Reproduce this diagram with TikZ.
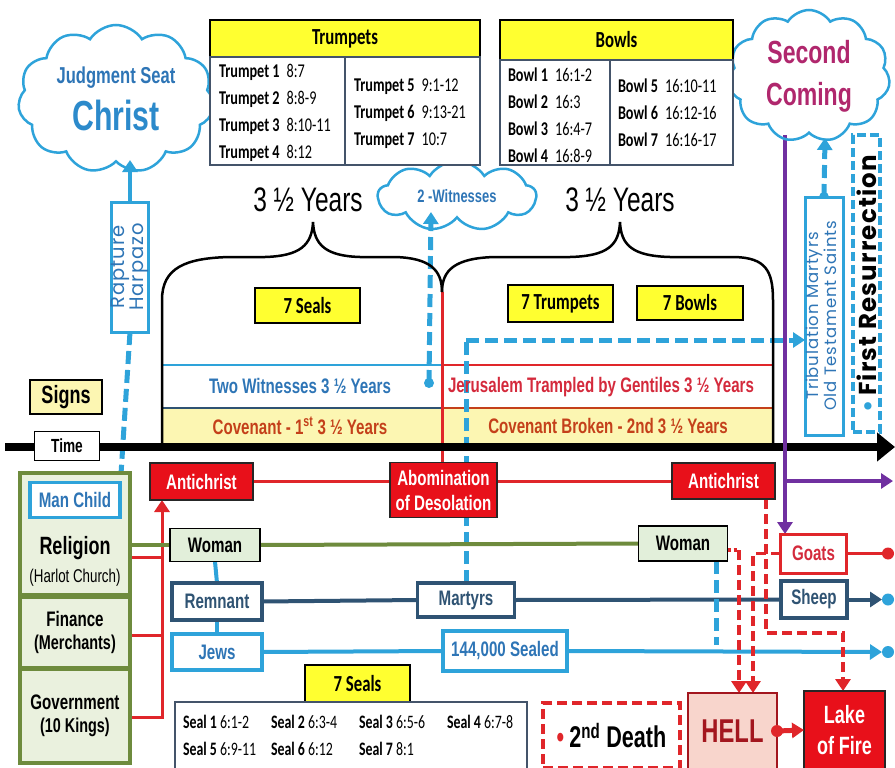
\documentclass[tikz,border=0pt]{standalone}
\usepackage{fontspec}
\usepackage{graphicx}
\setmainfont{Liberation Sans}
\newfontfamily\narrowfont{Liberation Sans}[FakeStretch=0.72]
\newfontfamily\calfont{Carlito}[FakeStretch=0.73]
\newfontfamily\roundfont{Poppins}[LetterSpace=5]
\usetikzlibrary{arrows.meta, shapes.symbols, calc}

\definecolor{cloudblue}{HTML}{2EA3DA}
\definecolor{textblue}{HTML}{2E75B6}
\definecolor{christblue}{HTML}{2C8ACB}
\definecolor{slateblue}{HTML}{2F5373}
\definecolor{armygreen}{HTML}{6E8B3D}
\definecolor{greenfill}{HTML}{EAF1DE}
\definecolor{womanfill}{HTML}{E2EFDA}
\definecolor{firered}{HTML}{E8101A}
\definecolor{redline}{HTML}{E0262A}
\definecolor{jerured}{HTML}{D42A3C}
\definecolor{brick}{HTML}{C4401A}
\definecolor{purpline}{HTML}{7030A0}
\definecolor{magent}{HTML}{B0276D}
\definecolor{brightyellow}{HTML}{FFFF30}
\definecolor{paleyellow}{HTML}{FCF6B2}
\definecolor{hellpink}{HTML}{F8D5CC}
\definecolor{helldark}{HTML}{A3161E}
\definecolor{tablegrey}{HTML}{44546A}

\pgfdeclarelayer{background}
\pgfsetlayers{background,main}

\tikzset{
  every node/.style={inner sep=0pt, outer sep=0pt},
  narrowbold/.style={font=\narrowfont\bfseries\fontsize{21}{23}\selectfont},
  sky/.style={cloud, cloud puffs=11, cloud puff arc=115, cloud ignores aspect,
    draw=cloudblue, line width=2.5pt, align=center},
  ybox/.style={draw=black, line width=1.5pt, fill=brightyellow,
    font=\calfont\bfseries\fontsize{23}{25}\selectfont},
  tablebox/.style={draw=tablegrey, line width=1.5pt, fill=white},
  tablerows/.style={font=\calfont\fontsize{19.5}{27}\selectfont, anchor=west},
  redbox/.style={narrowbold, draw=black!85, line width=1.5pt, fill=firered,
    text=white, align=center},
  greenbox/.style={draw=armygreen, line width=3.5pt, fill=greenfill, align=center},
  womanbox/.style={narrowbold, draw=black, line width=1.5pt, fill=womanfill},
  navybox/.style={narrowbold, draw=slateblue, line width=3.5pt, fill=white, text=slateblue},
  bluebox/.style={narrowbold, draw=cloudblue, line width=3.5pt, fill=white, text=textblue},
  bigtip/.style={-{Triangle[length=12pt, width=15pt]}},
  bluedash/.style={draw=cloudblue, line width=5pt, dash pattern=on 13pt off 6pt},
  reddash/.style={draw=redline, line width=3.5pt, dash pattern=on 10pt off 5pt},
  redconn/.style={draw=redline, line width=3pt},
  navyconn/.style={draw=slateblue, line width=4pt},
  greenconn/.style={draw=armygreen, line width=4pt},
  blueconn/.style={draw=cloudblue, line width=4pt},
  purpconn/.style={draw=purpline, line width=4pt},
}

\begin{document}
\begin{tikzpicture}[x=1pt, y=-1pt]
  \useasboundingbox (0,0) rectangle (895,768);

  % clouds
  \node[sky, text=textblue, font=\narrowfont\bfseries, minimum width=196pt, minimum height=148pt] (jsc) at (116,99)
    {\fontsize{23}{24}\selectfont Judgment Seat\\[10pt]
     \textcolor{christblue}{\fontsize{42}{40}\selectfont Christ}};
  \node[sky, text=magent, font=\narrowfont\bfseries\fontsize{32}{42}\selectfont,
    minimum width=162pt, minimum height=132pt] (second) at (809,76) {Second\\Coming};
  \node[sky, cloud puffs=9, text=textblue, font=\narrowfont\bfseries\fontsize{18}{19}\selectfont,
    minimum width=158pt, minimum height=70pt] (wit) at (457,196) {2 -Witnesses};

  % trumpets table
  \node[ybox, minimum width=270pt, minimum height=37pt] (trumphead) at (345,38.5) {Trumpets};
  \node[tablebox, minimum width=135pt, minimum height=108pt] (trumpL) at (277.5,111) {};
  \node[tablebox, minimum width=135pt, minimum height=108pt] (trumpR) at (412.5,111) {};
  \node[tablerows] (trumpLtxt) at (219,113) {\begin{tabular}{@{}l@{\hspace{7pt}}l@{}}
    \textbf{Trumpet 1} & 8:7\\ \textbf{Trumpet 2} & 8:8-9\\
    \textbf{Trumpet 3} & 8:10-11\\ \textbf{Trumpet 4} & 8:12\end{tabular}};
  \node[tablerows] (trumpRtxt) at (354,113) {\begin{tabular}{@{}l@{\hspace{7pt}}l@{}}
    \textbf{Trumpet 5} & 9:1-12\\ \textbf{Trumpet 6} & 9:13-21\\
    \textbf{Trumpet 7} & 10:7\end{tabular}};

  % bowls table
  \node[ybox, minimum width=233pt, minimum height=40pt] (bowlhead) at (616.5,40) {Bowls};
  \node[tablebox, minimum width=110pt, minimum height=105pt] (bowlL) at (555,112.5) {};
  \node[tablebox, minimum width=123pt, minimum height=105pt] (bowlR) at (671.5,112.5) {};
  \node[tablerows] (bowlLtxt) at (508,117) {\begin{tabular}{@{}l@{\hspace{7pt}}l@{}}
    \textbf{Bowl 1} & 16:1-2\\ \textbf{Bowl 2} & 16:3\\
    \textbf{Bowl 3} & 16:4-7\\ \textbf{Bowl 4} & 16:8-9\end{tabular}};
  \node[tablerows] (bowlRtxt) at (618,114) {\begin{tabular}{@{}l@{\hspace{7pt}}l@{}}
    \textbf{Bowl 5} & 16:10-11\\ \textbf{Bowl 6} & 16:12-16\\
    \textbf{Bowl 7} & 16:16-17\end{tabular}};

  % years and braces
  \node[font=\narrowfont\fontsize{34}{35}\selectfont] (yrs1) at (308,200) {3 ½ Years};
  \node[font=\narrowfont\fontsize{34}{35}\selectfont] (yrs2) at (620,200) {3 ½ Years};
  \coordinate (bj) at (442,292);
  \draw[line width=2.5pt] (162,447) -- (162,300) .. controls (162,268) and (185,258) .. (230,257)
    -- (265,257) .. controls (300,256) and (312,245) .. (313,222)
    .. controls (314,245) and (326,256) .. (360,257) -- (395,257)
    .. controls (430,258) and (442,270) .. (bj);
  \draw[line width=2.5pt] (bj) .. controls (442,270) and (455,258) .. (495,257) -- (570,257)
    .. controls (608,256) and (619,245) .. (620,222)
    .. controls (621,245) and (632,256) .. (670,257) -- (735,257)
    .. controls (765,258) and (773,270) .. (773,300) -- (773,447);

  % boxes inside the braces
  \node[ybox, minimum width=105pt, minimum height=35pt] (sealsA) at (307.5,305.5) {7 Seals};
  \node[ybox, minimum width=105pt, minimum height=37pt] (trumpsA) at (560.5,303.5) {7 Trumpets};
  \node[ybox, minimum width=106pt, minimum height=34pt] (bowlsA) at (690,303) {7 Bowls};
  \node[narrowbold, text=textblue] (twowit) at (300,386) {Two Witnesses 3 ½ Years};
  \node[narrowbold, text=brick] (cov1) at (300,426) {Covenant - 1\textsuperscript{st} 3 ½ Years};
  \node[narrowbold, text=jerured] (jeru) at (601,387) {Jerusalem Trampled by Gentiles 3 ½ Years};
  \node[narrowbold, text=brick] (cov2) at (608,426) {Covenant Broken - 2nd 3 ½ Years};

  % left side
  \node[narrowbold, font=\narrowfont\bfseries\fontsize{25}{26}\selectfont, draw=black, line width=1.5pt,
    fill=paleyellow, minimum width=72pt, minimum height=34pt] (signs) at (66,397) {Signs};
  \node[narrowbold, font=\narrowfont\bfseries\fontsize{19}{20}\selectfont, draw=black, line width=1.5pt,
    fill=white, minimum width=65pt, minimum height=29pt] (time) at (67,446) {Time};
  \node[draw=cloudblue, line width=3pt, fill=white, minimum width=36pt, minimum height=130pt,
    text=textblue, font=\roundfont\fontsize{19.5}{17}\selectfont] (rapture) at (130,267)
    {\rotatebox{90}{\begin{tabular}{@{}c@{}}Rapture\\Harpazo\end{tabular}}};

  % right side
  \node[draw=cloudblue, line width=3pt, fill=white, minimum width=38pt, minimum height=238pt,
    text=textblue, font=\roundfont\fontsize{16.5}{17}\selectfont] (trib) at (824,316)
    {\rotatebox{90}{\begin{tabular}{@{}c@{}}Tribulation Martyrs\\Old Testament Saints\end{tabular}}};
  \node[draw=cloudblue, line width=3.5pt, dash pattern=on 9pt off 4pt, fill=white,
    minimum width=27pt, minimum height=297pt, font=\roundfont\bfseries\fontsize{24.5}{24}\selectfont] (firstres) at (866.5,283.5)
    {\rotatebox{90}{\textcolor{cloudblue}{\textbullet}\,First Resurrection}};

  % red boxes
  \node[redbox, minimum width=103pt, minimum height=37pt] (ac1) at (201.5,481.5) {Antichrist};
  \node[redbox, minimum width=107pt, minimum height=55pt, font=\narrowfont\bfseries\fontsize{21}{25}\selectfont]
    (abom) at (443.5,490) {Abomination\\of Desolation};
  \node[redbox, minimum width=103pt, minimum height=36pt] (ac2) at (723.5,481) {Antichrist};

  % green column
  \node[greenbox, minimum width=110pt, minimum height=122pt] (religion) at (75,534) {};
  \node[greenbox, narrowbold, minimum width=110pt, minimum height=70pt] (finance) at (75,632.5)
    {Finance\\{\fontsize{20}{26}\selectfont(Merchants)}};
  \node[greenbox, narrowbold, minimum width=110pt, minimum height=94pt] (govt) at (75,716)
    {Government\\{\fontsize{20}{26}\selectfont(10 Kings)}};
  \node[bluebox, minimum width=90pt, minimum height=35pt] (manchild) at (75,500) {Man Child};
  \node[font=\narrowfont\bfseries\fontsize{25}{26}\selectfont, align=center] (religtxt) at (75,561)
    {Religion\\[2pt]{\mdseries\fontsize{18.5}{19}\selectfont(Harlot Church)}};

  % people
  \node[womanbox, minimum width=90pt, minimum height=33pt] (woman1) at (215,545) {Woman};
  \node[navybox, minimum width=90pt, minimum height=37pt] (remnant) at (217,601.5) {Remnant};
  \node[bluebox, minimum width=90pt, minimum height=36pt] (jews) at (217,652) {Jews};
  \node[navybox, minimum width=97pt, minimum height=34pt] (martyrs) at (466,600) {Martyrs};
  \node[bluebox, minimum width=124pt, minimum height=40pt] (sealed) at (505,651) {144,000 Sealed};
  \node[womanbox, minimum width=89pt, minimum height=35pt] (woman2) at (683,543.5) {Woman};
  \node[narrowbold, draw=redline, line width=3pt, fill=white, text=jerured,
    minimum width=66pt, minimum height=39pt] (goats) at (813.5,553.5) {Goats};
  \node[navybox, minimum width=66pt, minimum height=37pt] (sheep) at (814,599.5) {Sheep};

  % bottom
  \node[ybox, minimum width=105pt, minimum height=37pt] (sealsB) at (357.5,683.5) {7 Seals};
  \node[tablebox, anchor=north west, minimum width=352pt, minimum height=90pt] (sealtab) at (175,702) {};
  \node[tablerows, font=\calfont\fontsize{19}{27}\selectfont] (sealtxt) at (183,736.5)
    {\begin{tabular}{@{}*{3}{p{84pt}@{\hspace{4pt}}}l@{}}
    \textbf{Seal 1} 6:1-2 & \textbf{Seal 2} 6:3-4 & \textbf{Seal 3} 6:5-6 & \textbf{Seal 4} 6:7-8\\
    \textbf{Seal 5} 6:9-11 & \textbf{Seal 6} 6:12 & \textbf{Seal 7} 8:1 & \end{tabular}};
  \node[draw=redline, line width=3.5pt, dash pattern=on 10pt off 5pt, fill=white,
    minimum width=137pt, minimum height=65pt, font=\narrowfont\bfseries\fontsize{30}{30}\selectfont] (death2) at (611.5,735.5)
    {\textcolor{redline}{\textbullet}\,2\textsuperscript{nd} Death};
  \node[draw=helldark, line width=1.5pt, fill=hellpink, text=helldark, minimum width=89pt, minimum height=76pt,
    font=\narrowfont\bfseries\fontsize{33}{34}\selectfont] (hell) at (732.5,731) {HELL};
  \node[redbox, minimum width=81pt, minimum height=78pt, font=\narrowfont\bfseries\fontsize{25}{31}\selectfont]
    (lake) at (844.5,730) {Lake\\of Fire};

  % free ends
  \coordinate (tstart) at (5,447);
  \coordinate (tend) at (895,447);
  \coordinate (jscin) at (130,160);
  \coordinate (witin) at (431,212);
  \coordinate (wdot) at (429,383);
  \coordinate (mcdot) at (120,490);
  \coordinate (mturn) at (466,340);
  \coordinate (bus) at (162,600);
  \coordinate (pjoin) at (785,481);
  \coordinate (ptop) at (785,135);
  \coordinate (pend) at (893,481);
  \coordinate (tribin) at (825,138);
  \coordinate (goatend) at (888,553.5);
  \coordinate (sheepend) at (888,599.5);
  \coordinate (sealend) at (888,652);

  \begin{pgfonlayer}{background}
    % bands under the braces
    \fill[paleyellow] (162,408) rectangle (773,443);
    \draw[cloudblue, line width=1.5pt] (162,365) -- (bj |- 0,365);
    \draw[slateblue, line width=1.5pt] (162,408) -- (bj |- 0,408);
    \draw[redline, line width=1.5pt] (bj |- 0,365) -- (773,365);
    \draw[brick, line width=1.5pt] (bj |- 0,408) -- (773,408);
    \draw[redconn] (bj) -- (abom.north -| bj);

    % witnesses and martyrs
    \draw[bluedash, bigtip] (wdot) -- (witin);
    \fill[cloudblue] (wdot) circle (5pt);
    \draw[bluedash] (martyrs.north) -- (mturn);
    \draw[bluedash, bigtip] (mturn) -- (mturn -| trib.west);
    \draw[cloudblue, line width=4pt, bigtip] (rapture.north) -- (jscin);
    \draw[bluedash] (rapture.south) -- (mcdot);
    \fill[cloudblue] (mcdot) circle (5pt);
    \draw[bluedash, bigtip] (trib.north) -- (tribin);
    \fill[cloudblue] (trib.north) circle (5pt);

    % time axis
    \draw[line width=8pt, -{Triangle[length=18pt, width=28pt]}] (tstart) -- (tend);

    % second coming
    \draw[purpconn] (ptop) -- (pjoin);
    \draw[purpconn, bigtip] (pjoin) -- (pend);
    \draw[purpconn, bigtip] (pjoin) -- (goats.north -| pjoin);

    % antichrist line and the powers
    \draw[redconn] (ac1.east) -- (abom.west |- ac1.east);
    \draw[redconn] (abom.east |- ac2.west) -- (ac2.west);
    \draw[redconn] (religion.east |- 0,557) -- (bus |- 0,557);
    \draw[redconn] (finance.east |- 0,635) -- (bus |- 0,635);
    \draw[redconn, bigtip] (govt.east |- 0,717) -| (ac1.south -| bus);

    % woman, remnant, jews
    \draw[greenconn] (religion.east |- woman1.west) -- (woman1.west);
    \draw[greenconn] (woman1.east) -- (woman2.west);
    \draw[blueconn] (woman1.south) -- (remnant.north);
    \draw[blueconn] (remnant.south) -- (jews.north);
    \draw[navyconn] (remnant.east) -- (martyrs.west);
    \draw[navyconn] (martyrs.east) -- (sheep.west);
    \draw[navyconn, bigtip] (sheep.east) -- ([xshift=-6pt]sheepend);
    \fill[cloudblue] (sheepend) circle (6pt);
    \draw[blueconn] (jews.east) -- (sealed.west);
    \draw[blueconn, bigtip] (sealed.east) -- ([xshift=-6pt]sealend);
    \fill[cloudblue] (sealend) circle (6pt);
    \draw[redconn] (goats.east) -- (goatend);
    \fill[redline] (goatend) circle (6pt);
    \draw[bluedash] (woman2.south -| 716,0) -- (716,645);

    % to hell and the lake
    \draw[redline, line width=3.5pt, dash pattern=on 3pt off 3pt] (woman2.east |- 0,550) -- (739,550);
    \draw[reddash, bigtip] (739,550) -- (hell.north -| 739,0);
    \draw[reddash, bigtip] (goats.west) -| (hell.north -| 753,0);
    \draw[reddash, bigtip] (ac2.south -| 766,0) |- (843,633) -- (lake.north -| 843,0);
  \end{pgfonlayer}
  \draw[redline, line width=5pt, bigtip] (hell.east) -- (lake.west);
  \fill[redline] (hell.east) circle (6pt);
\end{tikzpicture}
\end{document}
